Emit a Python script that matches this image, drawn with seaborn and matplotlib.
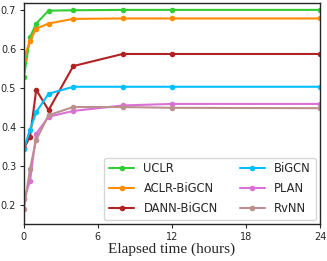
import matplotlib
matplotlib.use('Agg')
import matplotlib.pyplot as plt
import seaborn as sns
import pandas as pd

hours = [0, 0.5, 1, 2, 4, 8, 12, 24]
models = ['UCLR', 'ACLR-BiGCN', 'DANN-BiGCN', 'BiGCN', 'PLAN', 'RvNN']

uclr = [0.528, 0.630, 0.665, 0.698, 0.699, 0.700, 0.700, 0.700]
aclr = [0.575, 0.621, 0.652, 0.665, 0.677, 0.678, 0.678, 0.678]
dann = [0.345, 0.375, 0.495, 0.443, 0.556, 0.587, 0.587, 0.587]
bigcn = [0.344, 0.393, 0.438, 0.485, 0.503, 0.503, 0.503, 0.503]
plan = [0.215, 0.261, 0.383, 0.426, 0.441, 0.455, 0.459, 0.459]
rvnn = [0.190, 0.293, 0.367, 0.430, 0.451, 0.451, 0.449, 0.448]

colors = ['#32cd32', '#ff8c00', '#b22222', '#00bfff', '#da70d6', '#bc8f8f']

rows = []
for name, vals in zip(models, [uclr, aclr, dann, bigcn, plan, rvnn]):
    for h, v in zip(hours, vals):
        rows.append({'hour': h, 'acc': v, 'model': name})
data = pd.DataFrame(rows)

sns.set_style('ticks')
plt.rcParams['font.family'] = ['DejaVu Sans']

fig = plt.figure(figsize=(3.27, 2.61), dpi=100)
ax = fig.add_axes([0.073, 0.14, 0.906, 0.849])

sns.lineplot(data=data, x='hour', y='acc', hue='model', hue_order=models,
             palette=colors, marker='o', markersize=4, markeredgewidth=0,
             linewidth=1.5, ax=ax)

ax.set_xlim(0, 24)
ax.set_ylim(0.15, 0.718)
ax.set_xticks([0, 6, 12, 18, 24])
ax.set_yticks([0.2, 0.3, 0.4, 0.5, 0.6, 0.7])
ax.tick_params(labelsize=7, length=3, pad=2.5)
ax.set_ylabel('')
ax.set_xlabel('Elapsed time (hours)', fontsize=11, family=['Liberation Serif'],
              labelpad=0.5)
for s in ax.spines.values():
    s.set_visible(True)
    s.set_linewidth(1.0)

ax.legend(ncol=2, loc='lower right', fontsize=8.3, columnspacing=1.9,
          handlelength=2.2, labelspacing=0.6, borderaxespad=0.4)

fig.savefig('out.png', dpi=100)
